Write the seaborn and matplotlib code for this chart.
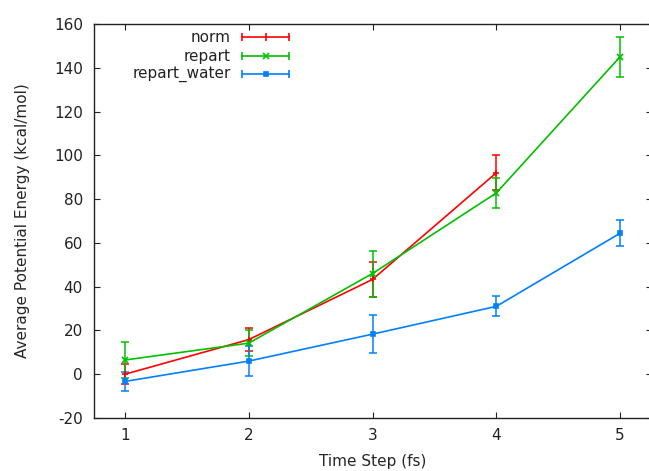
import matplotlib
matplotlib.use("Agg")
import matplotlib.pyplot as plt
import seaborn as sns
import pandas as pd
import numpy as np

# ---- data ----
series_names = ["norm", "repart", "repart_water"]
norm_x = [1, 2, 3, 4]
norm_y = [0.0, 15.8, 43.3, 92.0]
norm_err = [4.6, 5.3, 8.0, 8.0]
repart_x = [1, 2, 3, 4, 5]
repart_y = [6.5, 14.2, 46.0, 82.8, 145.0]
repart_err = [8.2, 6.0, 10.5, 7.0, 9.2]
water_x = [1, 2, 3, 4, 5]
water_y = [-3.3, 6.0, 18.3, 31.0, 64.4]
water_err = [4.2, 7.0, 8.7, 4.6, 6.0]
x_ticks = [1, 2, 3, 4, 5]
y_ticks = [-20, 0, 20, 40, 60, 80, 100, 120, 140, 160]

colors = {"norm": "#ff0000", "repart": "#00c000", "repart_water": "#0080ff"}
markers = {"norm": "+", "repart": "x", "repart_water": "s"}
msizes = {"norm": 5, "repart": 4, "repart_water": 3.5}

sns.set_style("ticks")
plt.rcParams["font.family"] = ["DejaVu Sans"]
plt.rcParams["axes.unicode_minus"] = False

fig = plt.figure(figsize=(6.49, 4.71), dpi=100)
W, H = 649, 471
RIGHT = 652
ax = fig.add_axes([94 / W, (H - 418) / H, (RIGHT - 94) / W, (418 - 24) / H])

data = {
    "norm": (norm_x, norm_y, norm_err),
    "repart": (repart_x, repart_y, repart_err),
    "repart_water": (water_x, water_y, water_err),
}
frames = []
for name in series_names:
    xs, ys, es = data[name]
    frames.append(pd.DataFrame({"x": xs, "y": ys, "err": es, "series": name}))
df = pd.concat(frames, ignore_index=True)

for name in series_names:
    d = df[df.series == name]
    ax.errorbar(d["x"], d["y"], yerr=d["err"], fmt="none", ecolor=colors[name],
                elinewidth=1.1, capsize=3, capthick=1.1, zorder=2)
    sns.lineplot(data=d, x="x", y="y", ax=ax, color=colors[name], lw=1.2,
                 marker=markers[name], markersize=msizes[name],
                 markeredgecolor=colors[name], markerfacecolor=colors[name],
                 markeredgewidth=1.2, zorder=3, legend=False)

ax.set_xlim(0.75, 0.75 + 4.5 * (RIGHT - 94) / (651 - 94))
ax.set_ylim(-20, 160)
ax.set_xticks(x_ticks)
ax.set_yticks(y_ticks)
ax.tick_params(direction="in", length=4.5, width=0.8, top=True, right=True,
               labelsize=11, colors="#222222")
ax.tick_params(axis="y", pad=8)
ax.tick_params(axis="x", pad=7)
for s in ax.spines.values():
    s.set_linewidth(1.0)
    s.set_color("#222222")
ax.set_xlabel("Time Step (fs)", fontsize=11, labelpad=8)
ax.set_ylabel("Average Potential Energy (kcal/mol)", fontsize=11, labelpad=17)

# gnuplot-style key (top left, text right aligned, sample to the right)
def px_to_axes(px, py):
    return ((px - 94) / (RIGHT - 94), (418 - py) / (418 - 24))

rows_y = [37, 56, 74]
for name, ry in zip(series_names, rows_y):
    tx, ty = px_to_axes(231, ry)
    ax.text(tx, ty, name, transform=ax.transAxes, ha="right", va="center",
            fontsize=11, color="#222222")
    x0, _ = px_to_axes(242, ry)
    x1, _ = px_to_axes(289, ry)
    xm = (x0 + x1) / 2
    c = colors[name]
    ax.plot([x0, x1], [ty, ty], transform=ax.transAxes, color=c, lw=1.2,
            clip_on=False)
    ax.plot([x0, x1], [ty, ty], transform=ax.transAxes, color=c, lw=0,
            marker="|", markersize=6, markeredgewidth=1.2, clip_on=False)
    ax.plot([xm], [ty], transform=ax.transAxes, color=c, lw=0,
            marker=markers[name] if name != "norm" else "|",
            markersize=msizes[name] + (1 if name == "norm" else 0),
            markeredgewidth=1.2, clip_on=False)

fig.savefig("out.png", dpi=100)
